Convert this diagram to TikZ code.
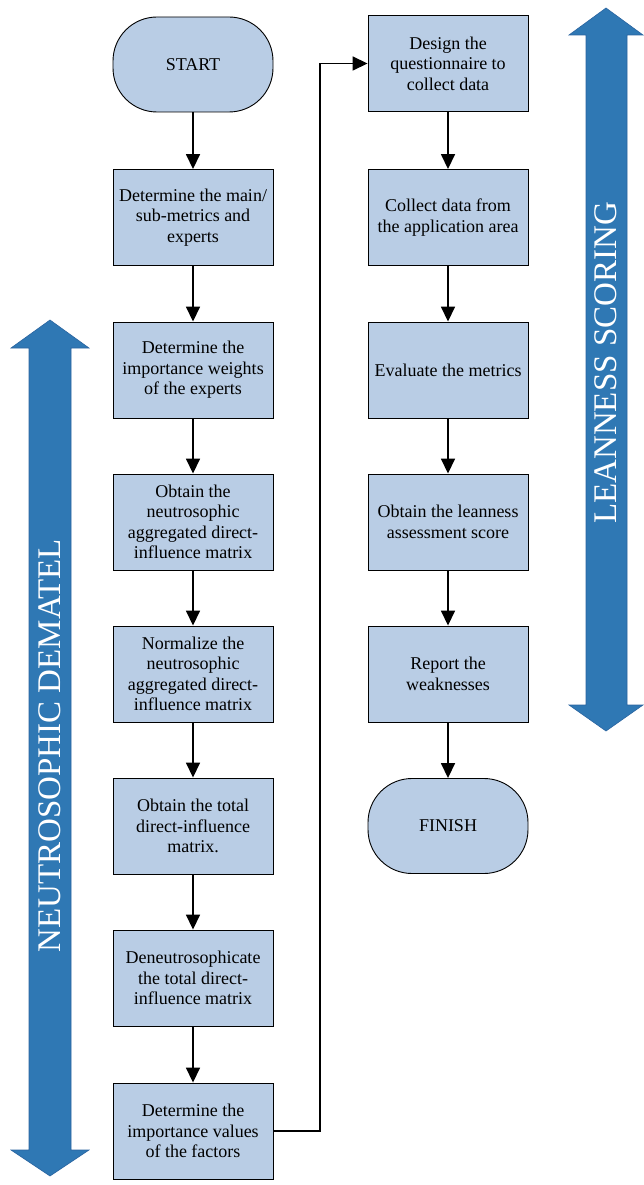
\documentclass[tikz,border=0pt]{standalone}
\usepackage{fontspec}
\setmainfont{Liberation Serif}
\usetikzlibrary{arrows.meta}
\definecolor{boxfill}{HTML}{B9CDE5}
\definecolor{bigarrow}{HTML}{2F78B4}
\definecolor{bigarrowedge}{HTML}{2A64A0}
\tikzset{
  stepbox/.style={draw=black, line width=0.9pt, fill=boxfill, minimum width=160pt, minimum height=96pt, inner sep=1pt, align=center, font=\fontsize{18}{20.5}\selectfont},
  termbox/.style={stepbox, rounded corners=44pt, minimum height=95pt},
  flow/.style={line width=1.6pt, -{Triangle[length=15pt,width=14pt]}},
  bigtext/.style={text=white, rotate=90, font=\fontsize{33}{35}\selectfont}
}
\begin{document}
\begin{tikzpicture}[x=1pt,y=-1pt]
\useasboundingbox (0,0) rectangle (643,1185);
% big double arrows
\filldraw[fill=bigarrow, draw=bigarrowedge, line width=0.6pt]
  (50,320) -- (89,348) -- (71,348) -- (71,1150) -- (89,1150) -- (50,1176) -- (11,1150) -- (29,1150) -- (29,348) -- (11,348) -- cycle;
\node[bigtext] (ltext) at (50,746) {NEUTROSOPHIC DEMATEL};
\filldraw[fill=bigarrow, draw=bigarrowedge, line width=0.6pt]
  (606,8) -- (643,35) -- (627,35) -- (627,705) -- (643,705) -- (606,731) -- (569,705) -- (586,705) -- (586,35) -- (569,35) -- cycle;
\node[bigtext] (rtext) at (606,363) {LEANNESS SCORING};
% left column
\node[termbox] (start) at (193,64.5) {START};
\node[stepbox] (b1) at (193,217.5) {Determine the main/\\sub-metrics and\\experts};
\node[stepbox] (b2) at (193,370) {Determine the\\importance weights\\of the experts};
\node[stepbox] (b3) at (193,522) {Obtain the\\neutrosophic\\aggregated direct-\\influence matrix};
\node[stepbox] (b4) at (193,674) {Normalize the\\neutrosophic\\aggregated direct-\\influence matrix};
\node[stepbox] (b5) at (193,826) {Obtain the total\\direct-influence\\matrix.};
\node[stepbox] (b6) at (193,978) {Deneutrosophicate\\the total direct-\\influence matrix};
\node[stepbox] (b7) at (193,1131) {Determine the\\importance values\\of the factors};
% right column
\node[stepbox] (r1) at (448,63.5) {Design the\\questionnaire to\\collect data};
\node[stepbox] (r2) at (448,217.5) {Collect data from\\the application area};
\node[stepbox] (r3) at (448,370) {Evaluate the metrics};
\node[stepbox] (r4) at (448,522) {Obtain the leanness\\assessment score};
\node[stepbox] (r5) at (448,674) {Report the\\weaknesses};
\node[termbox] (finish) at (448,826) {FINISH};
% connectors
\draw[flow] (start) -- (b1);
\draw[flow] (b1) -- (b2);
\draw[flow] (b2) -- (b3);
\draw[flow] (b3) -- (b4);
\draw[flow] (b4) -- (b5);
\draw[flow] (b5) -- (b6);
\draw[flow] (b6) -- (b7);
\coordinate (c1) at (320,1131);
\coordinate (c2) at (320,63.5);
\draw[flow] (b7.east) -- (c1) -- (c2) -- (r1.west);
\draw[flow] (r1) -- (r2);
\draw[flow] (r2) -- (r3);
\draw[flow] (r3) -- (r4);
\draw[flow] (r4) -- (r5);
\draw[flow] (r5) -- (finish);
\end{tikzpicture}
\end{document}
